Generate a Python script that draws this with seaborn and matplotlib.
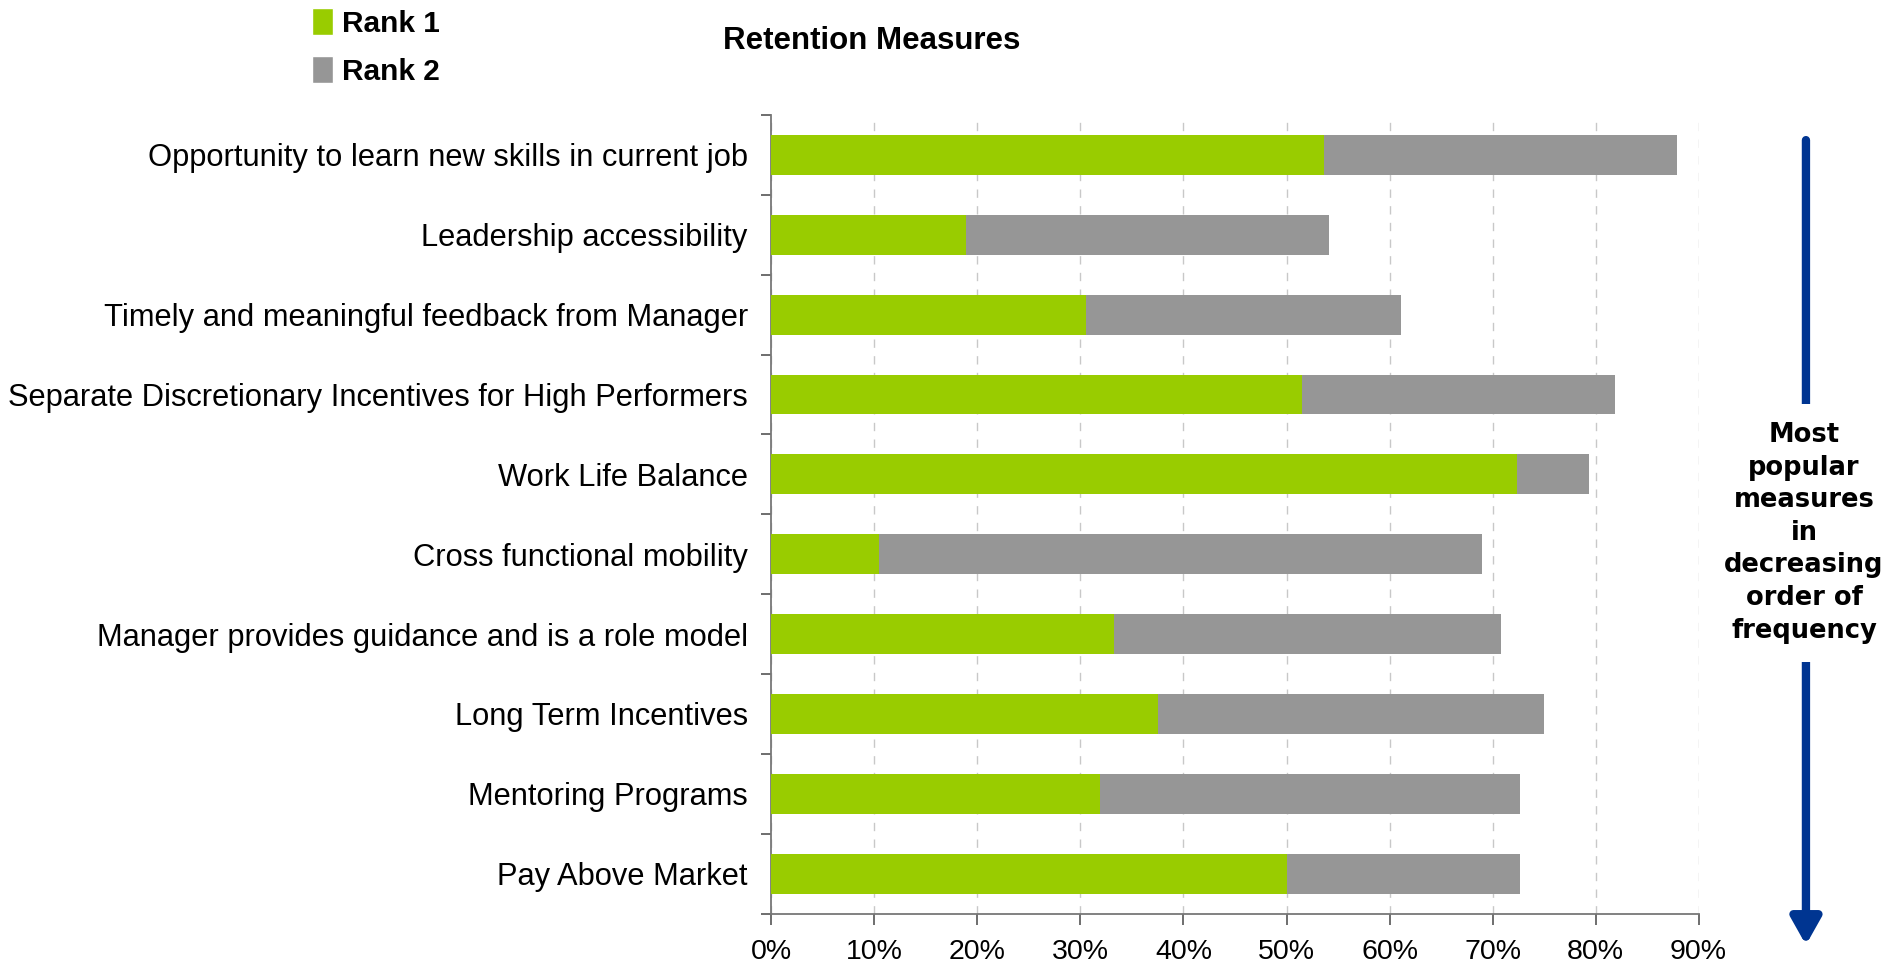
# Retention measures: stacked horizontal bars, Rank 1 + Rank 2 share

import matplotlib.pyplot as plt
import seaborn as sns
import pandas as pd
from matplotlib.patches import Patch, FancyArrowPatch

measures = ['Opportunity to learn new skills in current job',
            'Leadership accessibility',
            'Timely and meaningful feedback from Manager',
            'Separate Discretionary Incentives for High Performers',
            'Work Life Balance',
            'Cross functional mobility',
            'Manager provides guidance and is a role model',
            'Long Term Incentives',
            'Mentoring Programs',
            'Pay Above Market']
rank1 = [53.6, 18.9, 30.5, 51.5, 72.4, 10.4, 33.3, 37.5, 31.9, 50.0]
rank2 = [34.3, 35.2, 30.6, 30.4, 7.0, 58.6, 37.5, 37.5, 40.8, 22.7]
xticks = [0, 10, 20, 30, 40, 50, 60, 70, 80, 90]

green = '#99CC00'
grey = '#969696'
navy = '#003591'

df = pd.DataFrame({'measure': measures, 'rank1': rank1, 'rank2': rank2})
df['total'] = df['rank1'] + df['rank2']

sns.set_style('white')
plt.rcParams['font.family'] = ['Liberation Sans', 'DejaVu Sans']
plt.rcParams['text.color'] = 'black'
plt.rcParams['xtick.color'] = 'black'
plt.rcParams['ytick.color'] = 'black'

fig = plt.figure(figsize=(19, 9.74), dpi=100)
ax = fig.add_axes([0.406, 0.062, 0.488, 0.82])

sns.barplot(data=df, y='measure', x='total', color=grey, width=0.5,
            orient='h', saturation=1, linewidth=0, ax=ax, zorder=3)
sns.barplot(data=df, y='measure', x='rank1', color=green, width=0.5,
            orient='h', saturation=1, linewidth=0, ax=ax, zorder=4)

ax.set_xlim(0, 90)
ax.set_ylim(9.5, -0.5)
ax.set_xticks(xticks)
ax.set_xticklabels([f'{v}%' for v in xticks], fontsize=20.5)
ax.set_xlabel('')
ax.set_ylabel('')
ax.tick_params(axis='y', which='major', left=False, length=0, pad=17, labelsize=22.2)
ax.set_yticks([i + 0.5 for i in range(-1, 10)], minor=True)
ax.tick_params(axis='y', which='minor', left=True, length=7, width=1.2, color='#555555', direction='out')
ax.tick_params(axis='x', bottom=True, length=8, width=1.2, color='#555555', direction='out', pad=10)

ax.grid(axis='x', color='#C8C8C8', linestyle=(0, (6, 6)), linewidth=1, zorder=0)
for s in ['top', 'right']:
    ax.spines[s].set_visible(False)
for s in ['left', 'bottom']:
    ax.spines[s].set_color('#777777')
    ax.spines[s].set_linewidth(1.3)

fig.text(0.459, 0.958, 'Retention Measures', fontsize=22.5, fontweight='bold', ha='center', va='center')

handles = [Patch(facecolor=green, label='Rank 1'), Patch(facecolor=grey, label='Rank 2')]
fig.legend(handles=handles, loc='upper left', bbox_to_anchor=(0.150, 1.019), frameon=False,
           handlelength=0.7, handleheight=1.0, handletextpad=0.3, labelspacing=0.62,
           prop={'size': 21.5, 'weight': 'bold'})

# arrow on the right with the caption sitting over it
arrow = FancyArrowPatch((0.9505, 0.859), (0.9505, 0.027), transform=fig.transFigure,
                        arrowstyle='-|>,head_length=0.8,head_width=0.45', mutation_scale=20,
                        color=navy, linewidth=6)
fig.add_artist(arrow)
fig.text(0.9495, 0.453, 'Most\npopular\nmeasures\nin\ndecreasing\norder of\nfrequency',
         family='DejaVu Sans', fontsize=18.5, fontweight='bold', ha='center', va='center',
         linespacing=1.33, bbox=dict(facecolor='white', edgecolor='none', pad=13))

fig.savefig('out.png', dpi=100)
